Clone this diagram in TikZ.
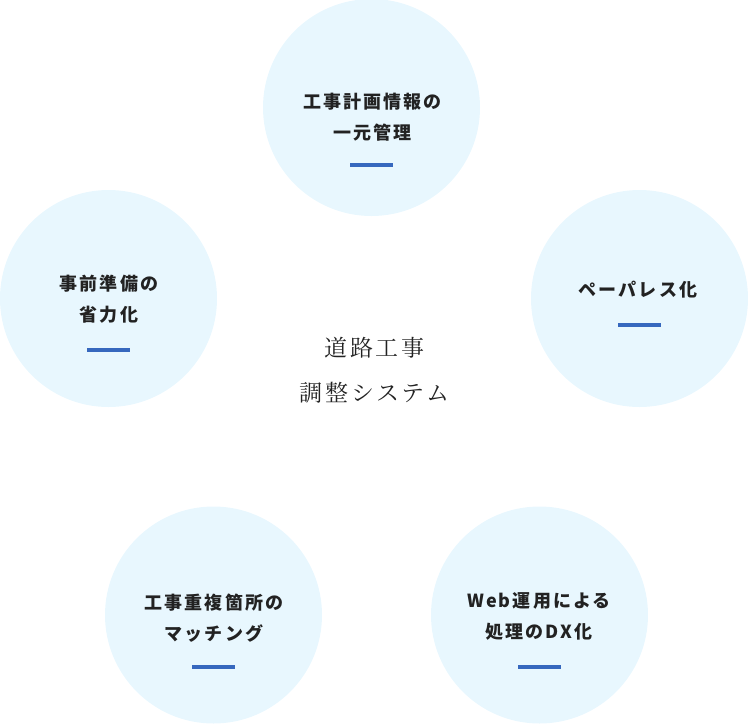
\documentclass[tikz,border=0pt]{standalone}
\usepackage{fontspec}
\newfontfamily\jpsans[LetterSpace=12]{Noto Sans CJK JP}
\newfontfamily\jpserif[LetterSpace=12]{Noto Serif CJK JP}
\definecolor{circfill}{HTML}{E8F7FE}
\definecolor{barblue}{HTML}{3668BE}
\definecolor{txt}{HTML}{222222}
\begin{document}
\begin{tikzpicture}[x=1pt,y=-1pt,
  bubble/.style={circle,fill=circfill,draw=none,minimum size=217pt,inner sep=0pt},
  label/.style={font=\jpsans\bfseries\fontsize{18pt}{31pt}\selectfont,text=txt,align=center,inner sep=0pt},
  bar/.style={fill=barblue,draw=none,minimum width=43pt,minimum height=4pt,inner sep=0pt},
  title/.style={font=\jpserif\fontsize{23pt}{45pt}\selectfont,text=txt,align=center,inner sep=0pt}]
\useasboundingbox (0,0) rectangle (748,724);
% circles
\node[bubble] (ctop) at (371.5,107.5) {};
\node[bubble] (cleft) at (108.5,298.5) {};
\node[bubble] (cright) at (639.5,298.5) {};
\node[bubble] (cbl) at (213.5,615) {};
\node[bubble] (cbr) at (539.5,615) {};
% labels
\node[label] (ttop) at (372.5,117) {工事計画情報の\\一元管理};
\node[label] (tleft) at (109,299) {事前準備の\\省力化};
\node[label] (tright) at (638,289.5) {ペーパレス化};
\node[label] (tbl) at (214,618) {工事重複箇所の\\マッチング};
\node[label] (tbr) at (539,616.5) {Web運用による\\処理のDX化};
% bars
\node[bar] (btop) at (371.5,165) {};
\node[bar] (bleft) at (108.5,350) {};
\node[bar] (bright) at (639.5,325) {};
\node[bar] (bbl) at (213.5,667) {};
\node[bar] (bbr) at (539.5,667) {};
% center title
\node[title] (title) at (374.5,370.5) {道路工事\\調整システム};
\end{tikzpicture}
\end{document}
